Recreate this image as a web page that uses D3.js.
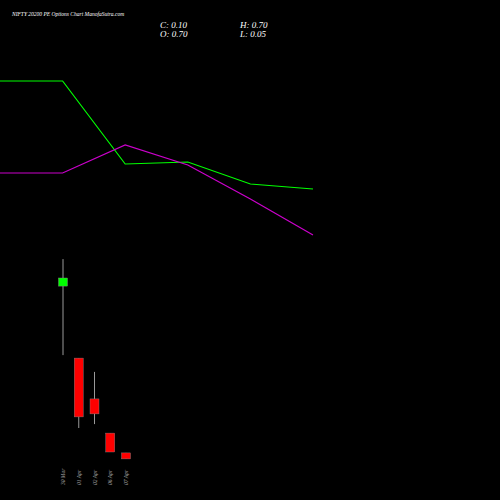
<!DOCTYPE html><html><head><script src="https://cdn.jsdelivr.net/npm/d3@7"></script>
<style>body{margin:0;background:#000}</style></head><body><svg id="c" width="500" height="500"></svg><script>
const dates=["30 Mar","01 Apr","02 Apr","06 Apr","07 Apr"];
const open=[0.613,0.373,0.237,0.123,0.057];
const close=[0.64,0.177,0.187,0.06,0.037];
const high=[0.703,0.373,0.327,0.123,0.057];
const low=[0.383,0.14,0.153,0.06,0.037];
const greenLine=[84.5,84.5,43,44,33,30.5];
const purpleLine=[38.5,38.5,52.5,42.5,25.5,7.5];
const svg=d3.select("#c");
svg.append("rect").attr("width",500).attr("height",500).attr("fill","#000");
const x=d3.scaleLinear().domain([0,4]).range([63,126]);
const y=d3.scaleLinear().domain([0,1]).range([470,170]);
const lx=d3.scaleLinear().domain([0,5]).range([0,313]);
const ly=d3.scaleLinear().domain([0,100]).range([250,50]);
const line=d3.line().x((d,i)=>lx(i)).y(d=>ly(d));
svg.append("path").attr("d",line(greenLine)).attr("fill","none").attr("stroke","#00ff00").attr("stroke-width",1.2);
svg.append("path").attr("d",line(purpleLine)).attr("fill","none").attr("stroke","#cc00cc").attr("stroke-width",1.2);
dates.forEach((d,i)=>{
 svg.append("line").attr("x1",x(i)).attr("x2",x(i)).attr("y1",y(high[i])).attr("y2",y(low[i])).attr("stroke","#999").attr("stroke-width",1);
 const up=close[i]>=open[i];
 const t=y(Math.max(open[i],close[i])),b=y(Math.min(open[i],close[i]));
 svg.append("rect").attr("x",x(i)-4.5).attr("width",9).attr("y",t).attr("height",Math.max(1,b-t)).attr("fill",up?"#00ff00":"#ff0000").attr("stroke","#888").attr("stroke-width",0.4);
 svg.append("text").attr("transform",`translate(${x(i)+2},485) rotate(-90)`).attr("fill","#aaa").attr("font-size",5.5).attr("font-style","italic").attr("font-family","Liberation Serif").text(d);
});
const T=(t,xx,yy,s)=>svg.append("text").attr("x",xx).attr("y",yy).attr("fill","#fff").attr("font-size",s).attr("font-style","italic").attr("font-family","Liberation Serif").text(t);
T("NIFTY 20200  PE Options  Chart ManofaSutra.com",12,16,5.5);
T("C: 0.10",160,28,9);T("H: 0.70",240,28,9);
T("O: 0.70",160,37,9);T("L: 0.05",240,37,9);
</script></body></html>
